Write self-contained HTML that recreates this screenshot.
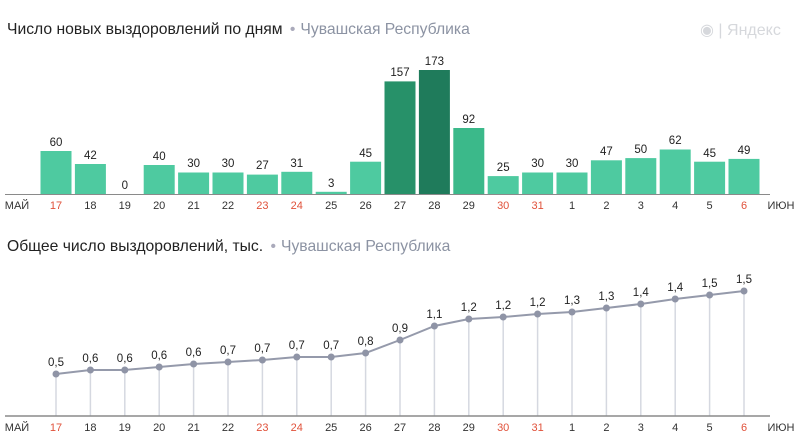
<!DOCTYPE html>
<html><head><meta charset="utf-8"><style>
body{margin:0;background:#fff;}
svg{display:block;font-family:"Liberation Sans","DejaVu Sans",sans-serif;}
.v{font-size:11.5px;fill:#222;text-anchor:middle}
.t{font-size:11px;fill:#333;text-anchor:middle}
.r{fill:#e0513a}
</style></head><body>
<svg width="800" height="448" viewBox="0 0 800 448">
<text x="7" y="34" font-size="15.7" fill="#222">Число новых выздоровлений по дням <tspan fill="#aab" dx="3">•</tspan><tspan fill="#8c93a3" dx="5">Чувашская Республика</tspan></text>
<text x="700" y="35" font-size="16" fill="#d6d8dc">◉ | Яндекс</text>
<g fill="#4ecaa0">
<rect x="40.5" y="151" width="31" height="43"/>
<rect x="74.9" y="164" width="31" height="30"/>
<rect x="143.7" y="165" width="31" height="29"/>
<rect x="178.1" y="172.5" width="31" height="21.5"/>
<rect x="212.5" y="172.5" width="31" height="21.5"/>
<rect x="246.9" y="174.6" width="31" height="19.4"/>
<rect x="281.3" y="171.8" width="31" height="22.2"/>
<rect x="315.7" y="191.8" width="31" height="2.2"/>
<rect x="350.1" y="161.7" width="31" height="32.3"/>
<rect x="487.7" y="176.1" width="31" height="17.9"/>
<rect x="522.1" y="172.5" width="31" height="21.5"/>
<rect x="556.5" y="172.5" width="31" height="21.5"/>
<rect x="590.9" y="160.3" width="31" height="33.7"/>
<rect x="625.3" y="158.1" width="31" height="35.9"/>
<rect x="659.7" y="149.5" width="31" height="44.5"/>
<rect x="694.1" y="161.7" width="31" height="32.3"/>
<rect x="728.5" y="158.9" width="31" height="35.1"/>
</g>
<rect x="453.3" y="128" width="31" height="66" fill="#3bb98a"/>
<rect x="384.5" y="81.4" width="31" height="112.6" fill="#279169"/>
<rect x="418.9" y="70" width="31" height="124" fill="#1f7b5b"/>
<line x1="5" y1="194.5" x2="770" y2="194.5" stroke="#8a8a8a" stroke-width="1"/>
<g class="v">
<text x="56" y="146">60</text><text x="90.4" y="159">42</text><text x="124.8" y="189">0</text><text x="159.2" y="160">40</text><text x="193.6" y="167">30</text><text x="228" y="167">30</text><text x="262.4" y="169">27</text><text x="296.8" y="167">31</text><text x="331.2" y="187">3</text><text x="365.6" y="157">45</text><text x="400" y="76">157</text><text x="434.4" y="65">173</text><text x="468.8" y="123">92</text><text x="503.2" y="171">25</text><text x="537.6" y="167">30</text><text x="572" y="167">30</text><text x="606.4" y="155">47</text><text x="640.8" y="153">50</text><text x="675.2" y="144">62</text><text x="709.6" y="157">45</text><text x="744" y="154">49</text>
</g>
<g class="t">
<text x="17" y="209">МАЙ</text><text x="56" y="209" class="r">17</text><text x="90.4" y="209">18</text><text x="124.8" y="209">19</text><text x="159.2" y="209">20</text><text x="193.6" y="209">21</text><text x="228" y="209">22</text><text x="262.4" y="209" class="r">23</text><text x="296.8" y="209" class="r">24</text><text x="331.2" y="209">25</text><text x="365.6" y="209">26</text><text x="400" y="209">27</text><text x="434.4" y="209">28</text><text x="468.8" y="209">29</text><text x="503.2" y="209" class="r">30</text><text x="537.6" y="209" class="r">31</text><text x="572" y="209">1</text><text x="606.4" y="209">2</text><text x="640.8" y="209">3</text><text x="675.2" y="209">4</text><text x="709.6" y="209">5</text><text x="744" y="209" class="r">6</text><text x="781" y="209">ИЮН</text>
</g>

<text x="7" y="251" font-size="15.7" fill="#222">Общее число выздоровлений, тыс. <tspan fill="#aab" dx="3">•</tspan><tspan fill="#8c93a3" dx="5">Чувашская Республика</tspan></text>
<g stroke="#d5d8e0" stroke-width="1.5">
<line x1="56" y1="374" x2="56" y2="416"/><line x1="90.4" y1="370" x2="90.4" y2="416"/><line x1="124.8" y1="370" x2="124.8" y2="416"/><line x1="159.2" y1="367" x2="159.2" y2="416"/><line x1="193.6" y1="364" x2="193.6" y2="416"/><line x1="228" y1="362" x2="228" y2="416"/><line x1="262.4" y1="360" x2="262.4" y2="416"/><line x1="296.8" y1="357" x2="296.8" y2="416"/><line x1="331.2" y1="357" x2="331.2" y2="416"/><line x1="365.6" y1="353" x2="365.6" y2="416"/><line x1="400" y1="340" x2="400" y2="416"/><line x1="434.4" y1="326" x2="434.4" y2="416"/><line x1="468.8" y1="319" x2="468.8" y2="416"/><line x1="503.2" y1="317" x2="503.2" y2="416"/><line x1="537.6" y1="314" x2="537.6" y2="416"/><line x1="572" y1="312" x2="572" y2="416"/><line x1="606.4" y1="308" x2="606.4" y2="416"/><line x1="640.8" y1="304" x2="640.8" y2="416"/><line x1="675.2" y1="299" x2="675.2" y2="416"/><line x1="709.6" y1="295" x2="709.6" y2="416"/><line x1="744" y1="291" x2="744" y2="416"/>
</g>
<line x1="5" y1="416" x2="770" y2="416" stroke="#8a8a8a" stroke-width="1.5"/>
<polyline fill="none" stroke="#959aab" stroke-width="2" points="56,374 90.4,370 124.8,370 159.2,367 193.6,364 228,362 262.4,360 296.8,357 331.2,357 365.6,353 400,340 434.4,326 468.8,319 503.2,317 537.6,314 572,312 606.4,308 640.8,304 675.2,299 709.6,295 744,291"/>
<g fill="#8f94a6">
<circle cx="56" cy="374" r="3.5"/><circle cx="90.4" cy="370" r="3.5"/><circle cx="124.8" cy="370" r="3.5"/><circle cx="159.2" cy="367" r="3.5"/><circle cx="193.6" cy="364" r="3.5"/><circle cx="228" cy="362" r="3.5"/><circle cx="262.4" cy="360" r="3.5"/><circle cx="296.8" cy="357" r="3.5"/><circle cx="331.2" cy="357" r="3.5"/><circle cx="365.6" cy="353" r="3.5"/><circle cx="400" cy="340" r="3.5"/><circle cx="434.4" cy="326" r="3.5"/><circle cx="468.8" cy="319" r="3.5"/><circle cx="503.2" cy="317" r="3.5"/><circle cx="537.6" cy="314" r="3.5"/><circle cx="572" cy="312" r="3.5"/><circle cx="606.4" cy="308" r="3.5"/><circle cx="640.8" cy="304" r="3.5"/><circle cx="675.2" cy="299" r="3.5"/><circle cx="709.6" cy="295" r="3.5"/><circle cx="744" cy="291" r="3.5"/>
</g>
<g class="v">
<text x="56" y="366">0,5</text><text x="90.4" y="362">0,6</text><text x="124.8" y="362">0,6</text><text x="159.2" y="359">0,6</text><text x="193.6" y="356">0,6</text><text x="228" y="354">0,7</text><text x="262.4" y="352">0,7</text><text x="296.8" y="349">0,7</text><text x="331.2" y="349">0,7</text><text x="365.6" y="345">0,8</text><text x="400" y="332">0,9</text><text x="434.4" y="318">1,1</text><text x="468.8" y="311">1,2</text><text x="503.2" y="309">1,2</text><text x="537.6" y="306">1,2</text><text x="572" y="304">1,3</text><text x="606.4" y="300">1,3</text><text x="640.8" y="296">1,4</text><text x="675.2" y="291">1,4</text><text x="709.6" y="287">1,5</text><text x="744" y="283">1,5</text>
</g>
<g class="t">
<text x="17" y="431">МАЙ</text><text x="56" y="431" class="r">17</text><text x="90.4" y="431">18</text><text x="124.8" y="431">19</text><text x="159.2" y="431">20</text><text x="193.6" y="431">21</text><text x="228" y="431">22</text><text x="262.4" y="431" class="r">23</text><text x="296.8" y="431" class="r">24</text><text x="331.2" y="431">25</text><text x="365.6" y="431">26</text><text x="400" y="431">27</text><text x="434.4" y="431">28</text><text x="468.8" y="431">29</text><text x="503.2" y="431" class="r">30</text><text x="537.6" y="431" class="r">31</text><text x="572" y="431">1</text><text x="606.4" y="431">2</text><text x="640.8" y="431">3</text><text x="675.2" y="431">4</text><text x="709.6" y="431">5</text><text x="744" y="431" class="r">6</text><text x="781" y="431">ИЮН</text>
</g>
</svg>
</body></html>
